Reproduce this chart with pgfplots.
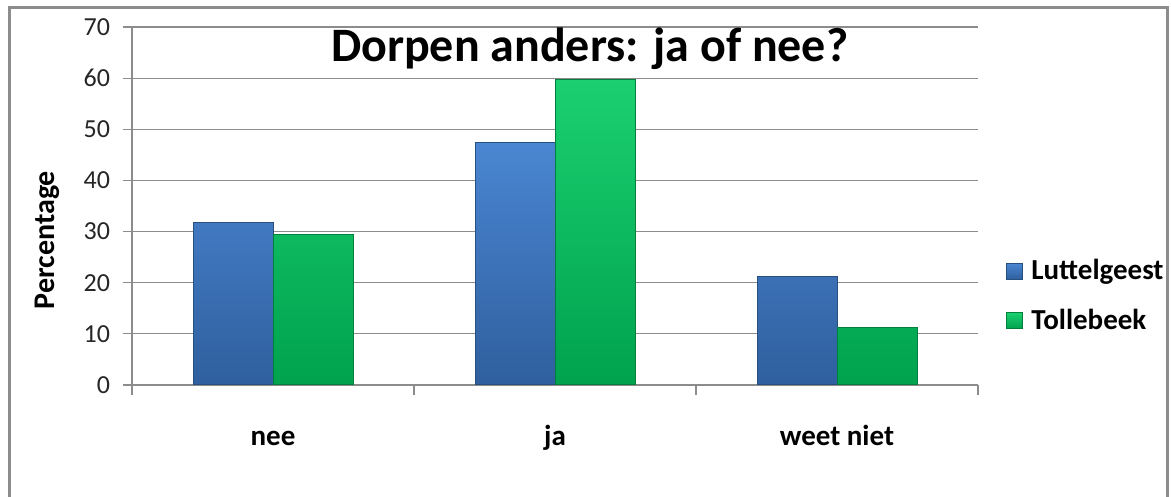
\documentclass[border=0pt]{standalone}
\usepackage{pgfplots}
\pgfplotsset{compat=1.18}
\usepackage{fontspec}
\setmainfont{Carlito}

\definecolor{lblue}{HTML}{4A86D2}
\definecolor{dblue}{HTML}{2F5F9E}
\definecolor{eblue}{HTML}{27507F}
\definecolor{lgreen}{HTML}{1BD070}
\definecolor{dgreen}{HTML}{00A24E}
\definecolor{egreen}{HTML}{00803C}
\definecolor{gridgray}{HTML}{8C8C8C}

\begin{document}
\begin{tikzpicture}
\useasboundingbox (0,0) rectangle (585.5pt,248.5pt);
% outer chart frame (bottom edge falls outside the picture)
\draw[gridgray, line width=1.5pt] (4.5pt,-2pt) -- (4.5pt,244.5pt) -- (583.8pt,244.5pt) -- (583.8pt,-2pt);
\begin{axis}[
    at={(66pt,56pt)}, anchor=south west,
    scale only axis,
    width=423pt, height=179pt,
    ybar=0pt, bar width=40pt,
    xmin=-0.5, xmax=2.5,
    ymin=0, ymax=70,
    xtick={0,1,2},
    xticklabels={nee,ja,weet niet},
    minor xtick={-0.5,0.5,1.5,2.5},
    major x tick style={draw=none},
    minor x tick style={gridgray, line width=0.6pt},
    ytick={0,10,...,70},
    tick align=outside,
    major tick length=4.5pt, minor tick length=5pt,
    y tick style={gridgray, line width=0.6pt},
    ymajorgrids,
    grid style={gridgray, line width=0.6pt},
    axis x line*=bottom, axis y line*=left,
    axis line style={gridgray, line width=0.8pt, -},
    /pgf/number format/assume math mode=true,
    yticklabel style={font=\fontsize{13}{13}\selectfont, text=black!85, xshift=-3pt},
    xticklabel style={font=\fontsize{14.5}{14.5}\selectfont\bfseries, text height=10pt, text depth=3pt, yshift=-12pt},
    ylabel={Percentage},
    ylabel style={font=\fontsize{15}{15}\selectfont\bfseries, at={(axis description cs:-0.1,0.405)}, anchor=center, rotate=0},
    title={Dorpen anders: ja of nee?},
    title style={font=\fontsize{24}{24}\selectfont\bfseries, at={(axis description cs:0.541,0.87)}, anchor=base},
    legend style={draw=none, fill=none, at={(axis description cs:1.026,0.249)}, anchor=west,
        font=\fontsize{14.5}{14.5}\selectfont\bfseries, row sep=11pt,
        nodes={inner ysep=1pt, inner xsep=4pt}},
    legend cell align=left,
    legend image code/.code={\draw[#1] (0pt,-4pt) rectangle (8pt,4pt);},
]
\addplot[draw=eblue, top color=lblue, bottom color=dblue, line width=0.5pt]
  coordinates {(0,31.8) (1,47.4) (2,21.2)};
\addplot[draw=egreen, top color=lgreen, bottom color=dgreen, line width=0.5pt]
  coordinates {(0,29.4) (1,59.7) (2,11.3)};
\legend{Luttelgeest,Tollebeek}
\end{axis}
\end{tikzpicture}
\end{document}
